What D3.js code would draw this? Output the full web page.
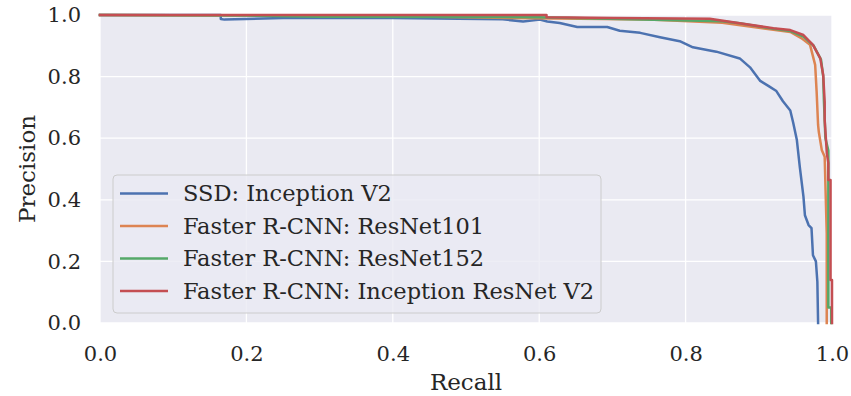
<!DOCTYPE html>
<html>
<head>
<meta charset="utf-8">
<script src="https://cdn.jsdelivr.net/npm/d3@7"></script>
<style>
  body { margin: 0; background: #ffffff; }
  svg text { font-family: "DejaVu Serif", serif; fill: #262626; }
</style>
</head>
<body>
<div id="chart"></div>
<script>
// Precision/recall values
const seriesNames = ['SSD: Inception V2', 'Faster R-CNN: ResNet101', 'Faster R-CNN: ResNet152', 'Faster R-CNN: Inception ResNet V2'];
const colors = ['#4C72B0', '#DD8452', '#55A868', '#C44E52'];

const ssdRecall = [0, 0.165, 0.165, 0.17, 0.25, 0.40, 0.55, 0.578, 0.601, 0.611, 0.628, 0.652, 0.693, 0.710, 0.738, 0.765, 0.792, 0.810, 0.833, 0.842, 0.874, 0.888, 0.902, 0.913, 0.924, 0.933, 0.943, 0.947, 0.952, 0.956, 0.961, 0.963, 0.968, 0.972, 0.974, 0.978, 0.980, 0.981];
const ssdPrecision = [1.0, 1.0, 0.987, 0.985, 0.99, 0.99, 0.986, 0.979, 0.985, 0.979, 0.974, 0.961, 0.961, 0.949, 0.942, 0.928, 0.915, 0.895, 0.885, 0.881, 0.859, 0.83, 0.786, 0.77, 0.753, 0.72, 0.69, 0.65, 0.594, 0.507, 0.41, 0.35, 0.318, 0.308, 0.22, 0.2, 0.134, 0.0];

const r101Recall = [0, 0.35, 0.56, 0.75, 0.85, 0.92, 0.943, 0.958, 0.970, 0.977, 0.979, 0.981, 0.982, 0.986, 0.990, 0.9928, 0.9928];
const r101Precision = [1.0, 0.998, 0.99, 0.985, 0.975, 0.952, 0.945, 0.925, 0.903, 0.838, 0.751, 0.643, 0.62, 0.562, 0.54, 0.29, 0.0];

const r152Recall = [0, 0.2, 0.3, 0.6, 0.85, 0.874, 0.92, 0.943, 0.961, 0.975, 0.985, 0.988, 0.989, 0.991, 0.995, 0.995, 0.999, 0.999];
const r152Precision = [1.0, 0.998, 0.994, 0.993, 0.98, 0.973, 0.955, 0.948, 0.93, 0.9, 0.855, 0.8, 0.72, 0.6, 0.56, 0.05, 0.05, 0.0];

const incRecall = [0, 0.61, 0.61, 0.70, 0.833, 0.874, 0.92, 0.943, 0.961, 0.974, 0.984, 0.988, 0.990, 0.990, 0.993, 0.995, 0.995, 0.998, 0.998, 1.0, 1.0];
const incPrecision = [1.0, 1.0, 0.993, 0.99, 0.988, 0.973, 0.957, 0.951, 0.935, 0.903, 0.859, 0.805, 0.718, 0.66, 0.55, 0.52, 0.464, 0.464, 0.14, 0.14, 0.0];

const xTicks = [0.0, 0.2, 0.4, 0.6, 0.8, 1.0];
const yTicks = [0.0, 0.2, 0.4, 0.6, 0.8, 1.0];

const allRecall = [ssdRecall, r101Recall, r152Recall, incRecall];
const allPrecision = [ssdPrecision, r101Precision, r152Precision, incPrecision];

const margin = { top: 15, right: 19, bottom: 73, left: 100 };
const totalW = 851, totalH = 396;
const width = totalW - margin.left - margin.right;
const height = totalH - margin.top - margin.bottom;

const svg = d3.select('#chart')
    .append('svg')
    .attr('width', totalW)
    .attr('height', totalH)
    .append('g')
    .attr('transform', 'translate(' + margin.left + ',' + margin.top + ')');

const xScale = d3.scaleLinear().domain([0, 1]).range([0, width]);
const yScale = d3.scaleLinear().domain([0, 1]).range([height, 0]);

// background
svg.append('rect')
    .attr('width', width)
    .attr('height', height)
    .attr('fill', '#EAEAF2');

// grid lines
svg.append('g').selectAll('line')
    .data(xTicks)
    .enter().append('line')
    .attr('x1', d => xScale(d)).attr('x2', d => xScale(d))
    .attr('y1', 0).attr('y2', height)
    .attr('stroke', '#ffffff').attr('stroke-width', 1.3);

svg.append('g').selectAll('line')
    .data(yTicks)
    .enter().append('line')
    .attr('x1', 0).attr('x2', width)
    .attr('y1', d => yScale(d)).attr('y2', d => yScale(d))
    .attr('stroke', '#ffffff').attr('stroke-width', 1.3);

// axes
const xAxis = svg.append('g')
    .attr('transform', 'translate(0,' + height + ')')
    .call(d3.axisBottom(xScale).tickValues(xTicks).tickFormat(d3.format('.1f')).tickSize(0).tickPadding(23));
const yAxis = svg.append('g')
    .call(d3.axisLeft(yScale).tickValues(yTicks).tickFormat(d3.format('.1f')).tickSize(0).tickPadding(19));

[xAxis, yAxis].forEach(a => {
    a.select('.domain').remove();
    a.selectAll('text')
        .attr('font-family', '"DejaVu Serif", serif')
        .attr('font-size', 21)
        .attr('fill', '#262626');
});

// axis labels
svg.append('text')
    .attr('x', width / 2)
    .attr('y', height + 67)
    .attr('text-anchor', 'middle')
    .attr('font-size', 23)
    .text('Recall');

svg.append('text')
    .attr('transform', 'translate(' + (-65) + ',' + (height / 2) + ') rotate(-90)')
    .attr('text-anchor', 'middle')
    .attr('font-size', 23)
    .text('Precision');

// lines
const line = d3.line()
    .x(d => xScale(d[0]))
    .y(d => yScale(d[1]));

allRecall.forEach((rec, i) => {
    const pts = rec.map((r, j) => [r, allPrecision[i][j]]);
    svg.append('path')
        .datum(pts)
        .attr('fill', 'none')
        .attr('stroke', colors[i])
        .attr('stroke-width', 2.5)
        .attr('stroke-linejoin', 'round')
        .attr('stroke-linecap', 'square')
        .attr('d', line);
});

// legend
const legend = svg.append('g')
    .attr('transform', 'translate(13,160)');

legend.append('rect')
    .attr('width', 488)
    .attr('height', 138)
    .attr('rx', 4)
    .attr('fill', '#EAEAF2')
    .attr('fill-opacity', 0.8)
    .attr('stroke', '#cccccc')
    .attr('stroke-width', 1);

seriesNames.forEach((name, i) => {
    const y = 18.5 + i * 32.5;
    legend.append('line')
        .attr('x1', 7).attr('x2', 55)
        .attr('y1', y).attr('y2', y)
        .attr('stroke', colors[i])
        .attr('stroke-width', 2.5);
    legend.append('text')
        .attr('x', 70)
        .attr('y', y)
        .attr('dy', '0.35em')
        .attr('font-size', 22.5)
        .text(name);
});
</script>
</body>
</html>
